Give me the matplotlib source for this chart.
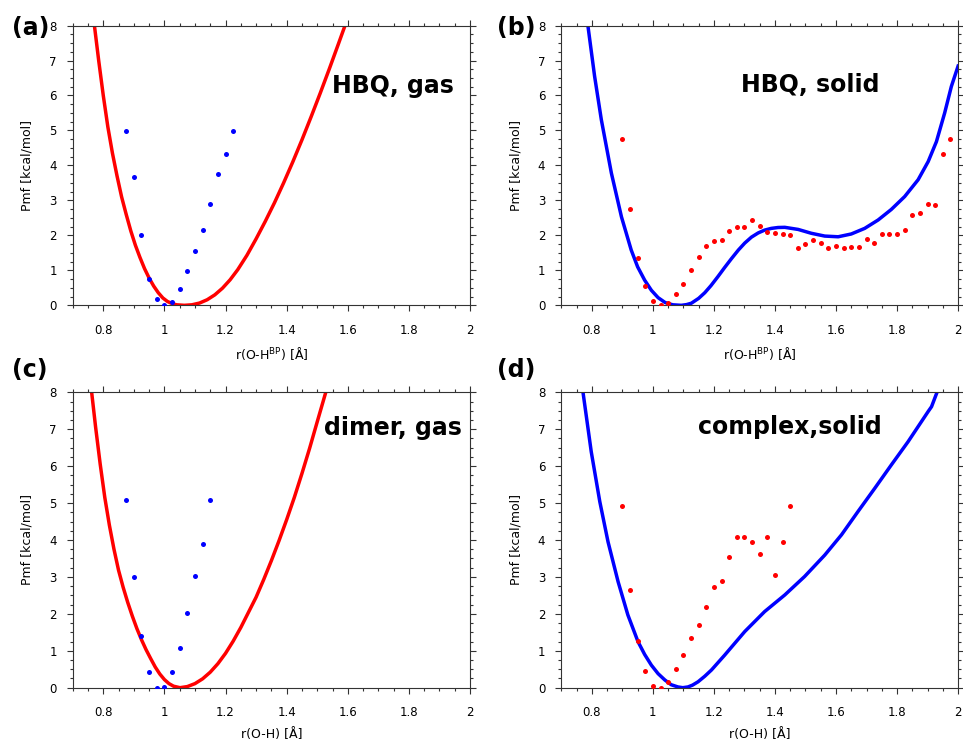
import numpy as np
import matplotlib.pyplot as plt
from matplotlib.ticker import MultipleLocator, FuncFormatter

# (a) HBQ, gas
a_dot_x = [0.875, 0.9, 0.925, 0.95, 0.975, 1.0, 1.025, 1.05, 1.075, 1.1, 1.125, 1.15, 1.175, 1.2, 1.225]
a_dot_y = [4.98, 3.68, 2.02, 0.75, 0.17, 0.0, 0.1, 0.47, 0.97, 1.54, 2.14, 2.89, 3.75, 4.33, 4.98]
a_line_x = [0.771, 0.785, 0.80, 0.815, 0.83, 0.845, 0.86, 0.875, 0.89, 0.905, 0.92,
            0.935, 0.95, 0.965, 0.98, 0.995, 1.01, 1.025, 1.04, 1.065,
            1.09, 1.115, 1.14, 1.165, 1.19, 1.215, 1.24, 1.27, 1.30, 1.33,
            1.36, 1.39, 1.42, 1.45, 1.48, 1.51, 1.54, 1.57, 1.591]
a_line_y = [8.0, 7.0, 6.0, 5.1, 4.35, 3.7, 3.1, 2.6, 2.13, 1.72, 1.37,
            1.05, 0.78, 0.55, 0.36, 0.21, 0.11, 0.05, 0.015, 0.0,
            0.015, 0.065, 0.16, 0.3, 0.49, 0.73, 1.02, 1.43, 1.9, 2.4,
            2.93, 3.5, 4.1, 4.73, 5.39, 6.07, 6.77, 7.49, 8.0]

# (b) HBQ, solid
b_dot_x = [0.9, 0.925, 0.95, 0.975, 1.0, 1.025, 1.05, 1.075, 1.1, 1.125, 1.15,
           1.175, 1.2, 1.225, 1.25, 1.275, 1.3, 1.325, 1.35, 1.375, 1.4, 1.425,
           1.45, 1.475, 1.5, 1.525, 1.55, 1.575, 1.6, 1.625, 1.65, 1.675, 1.7,
           1.725, 1.75, 1.775, 1.8, 1.825, 1.85, 1.875, 1.9, 1.925, 1.95, 1.975]
b_dot_y = [4.75, 2.75, 1.34, 0.54, 0.12, 0.0, 0.07, 0.32, 0.60, 1.00, 1.38,
           1.69, 1.85, 1.88, 2.12, 2.25, 2.25, 2.44, 2.27, 2.09, 2.06, 2.03,
           2.01, 1.65, 1.75, 1.88, 1.78, 1.64, 1.69, 1.63, 1.66, 1.67, 1.90,
           1.78, 2.03, 2.03, 2.05, 2.16, 2.57, 2.64, 2.91, 2.87, 4.33, 4.75]
b_line_x = [0.787, 0.809, 0.831, 0.864, 0.897, 0.929, 0.95, 0.973, 0.995, 1.017,
            1.04, 1.065, 1.093, 1.11, 1.126, 1.15, 1.17, 1.19, 1.213, 1.235,
            1.257, 1.28, 1.301, 1.323, 1.345, 1.366, 1.388, 1.41, 1.432, 1.476,
            1.519, 1.563, 1.607, 1.65, 1.694, 1.738, 1.781, 1.825, 1.869, 1.902,
            1.929, 1.956, 1.978, 2.0]
b_line_y = [8.0, 6.55, 5.31, 3.78, 2.53, 1.58, 1.1, 0.72, 0.43, 0.22,
            0.08, 0.015, 0.0, 0.02, 0.06, 0.2, 0.36, 0.56, 0.82, 1.08,
            1.33, 1.58, 1.78, 1.95, 2.07, 2.15, 2.2, 2.225, 2.23, 2.17,
            2.06, 1.98, 1.96, 2.04, 2.20, 2.44, 2.74, 3.11, 3.59, 4.11,
            4.68, 5.50, 6.26, 6.84]

# (c) dimer, gas
c_dot_x = [0.875, 0.9, 0.925, 0.95, 0.975, 1.0, 1.025, 1.05, 1.075, 1.1, 1.125, 1.15]
c_dot_y = [5.07, 3.0, 1.41, 0.415, 0.0, 0.01, 0.43, 1.07, 2.01, 3.02, 3.9, 5.07]
c_line_x = [0.762, 0.775, 0.79, 0.805, 0.82, 0.835, 0.85, 0.865, 0.88, 0.895, 0.91,
            0.925, 0.94, 0.955, 0.97, 0.985, 1.0, 1.015, 1.03, 1.051,
            1.075, 1.10, 1.125, 1.15, 1.175, 1.20, 1.225, 1.25, 1.275, 1.30,
            1.325, 1.35, 1.375, 1.40, 1.425, 1.45, 1.475, 1.50, 1.528]
c_line_y = [8.0, 7.05, 6.05, 5.15, 4.4, 3.75, 3.18, 2.72, 2.31, 1.94, 1.6,
            1.3, 1.03, 0.79, 0.56, 0.37, 0.22, 0.11, 0.04, 0.0,
            0.03, 0.11, 0.24, 0.42, 0.65, 0.93, 1.26, 1.63, 2.04, 2.45,
            2.93, 3.44, 3.98, 4.55, 5.15, 5.8, 6.48, 7.2, 8.0]

# (d) complex, solid
d_dot_x = [0.9, 0.925, 0.95, 0.975, 1.0, 1.025, 1.05, 1.075, 1.1, 1.125, 1.15, 1.175,
           1.2, 1.225, 1.25, 1.275, 1.3, 1.325, 1.35, 1.375, 1.4, 1.425, 1.45]
d_dot_y = [4.91, 2.65, 1.27, 0.45, 0.04, 0.0, 0.16, 0.51, 0.88, 1.35, 1.69, 2.19,
           2.72, 2.89, 3.54, 4.09, 4.09, 3.95, 3.61, 4.09, 3.04, 3.95, 4.91]
d_line_x = [0.771, 0.798, 0.826, 0.853, 0.886, 0.918, 0.951, 0.973, 0.995, 1.017,
            1.039, 1.06, 1.082, 1.098, 1.115, 1.13, 1.148, 1.17, 1.192, 1.235,
            1.301, 1.366, 1.432, 1.497, 1.563, 1.618, 1.672, 1.727, 1.781, 1.836,
            1.902, 1.913, 1.931]
d_line_y = [8.0, 6.39, 5.04, 3.95, 2.87, 1.97, 1.25, 0.9, 0.61, 0.38,
            0.21, 0.08, 0.02, 0.0, 0.02, 0.07, 0.16, 0.31, 0.48, 0.88,
            1.52, 2.06, 2.51, 3.01, 3.59, 4.14, 4.77, 5.40, 6.03, 6.66,
            7.48, 7.61, 8.0]

labels = ["(a)", "(b)", "(c)", "(d)"]
titles = ["HBQ, gas", "HBQ, solid", "dimer, gas", "complex,solid"]
xlabels = [r"r(O-H$^{\mathrm{BP}}$) [Å]", r"r(O-H$^{\mathrm{BP}}$) [Å]", "r(O-H) [Å]", "r(O-H) [Å]"]

RED = "#ff0000"
BLUE = "#0000ff"

fig = plt.figure(figsize=(9.63, 7.40), dpi=100)

# axes rectangles in figure fractions
rects = [
    [0.0755, 0.5874, 0.4126, 0.3781],
    [0.5829, 0.5874, 0.4120, 0.3781],
    [0.0755, 0.0707, 0.4126, 0.3992],
    [0.5829, 0.0707, 0.4120, 0.3992],
]
panels = [
    (a_line_x, a_line_y, RED, a_dot_x, a_dot_y, BLUE),
    (b_line_x, b_line_y, BLUE, b_dot_x, b_dot_y, RED),
    (c_line_x, c_line_y, RED, c_dot_x, c_dot_y, BLUE),
    (d_line_x, d_line_y, BLUE, d_dot_x, d_dot_y, RED),
]
title_pos = [(0.806, 0.784), (0.627, 0.787), (0.805, 0.879), (0.5765, 0.881)]
label_pos = [(0.012, 0.962), (0.516, 0.962), (0.012, 0.5), (0.516, 0.5)]


def fmt(v, pos):
    s = f"{v:.1f}"
    if s.endswith(".0"):
        s = s[:-2]
    return s


for i, (lx, ly, lc, px, py, pc) in enumerate(panels):
    ax = fig.add_axes(rects[i])
    ax.plot(lx, ly, color=lc, lw=2.5, solid_joinstyle="round", zorder=2)
    ax.plot(px, py, "o", color=pc, ms=3.6, mew=0, zorder=3)
    ax.set_xlim(0.7, 2.0)
    ax.set_ylim(0, 8)
    ax.xaxis.set_major_locator(MultipleLocator(0.2))
    ax.xaxis.set_minor_locator(MultipleLocator(0.05))
    ax.yaxis.set_major_locator(MultipleLocator(1))
    ax.yaxis.set_minor_locator(MultipleLocator(0.25))
    ax.xaxis.set_major_formatter(FuncFormatter(fmt))
    ax.tick_params(which="both", direction="out", top=True, right=True,
                   color="#333333", width=0.8)
    ax.tick_params(which="major", length=4.5)
    ax.tick_params(which="minor", length=2.5)
    ax.tick_params(axis="x", which="major", pad=9, labelsize=8.5)
    ax.tick_params(axis="y", which="major", pad=7, labelsize=8.5)
    for sp in ax.spines.values():
        sp.set_color("#333333")
        sp.set_linewidth(0.8)
    ax.set_xlabel(xlabels[i], fontsize=9, labelpad=6)
    ax.set_ylabel("Pmf [kcal/mol]", fontsize=9, labelpad=11)
    ax.text(title_pos[i][0], title_pos[i][1], titles[i], transform=ax.transAxes,
            ha="center", va="center", fontsize=17, fontweight="bold")
    fig.text(label_pos[i][0], label_pos[i][1], labels[i], ha="left", va="center",
             fontsize=17, fontweight="bold")

fig.savefig("out.png", dpi=100)
